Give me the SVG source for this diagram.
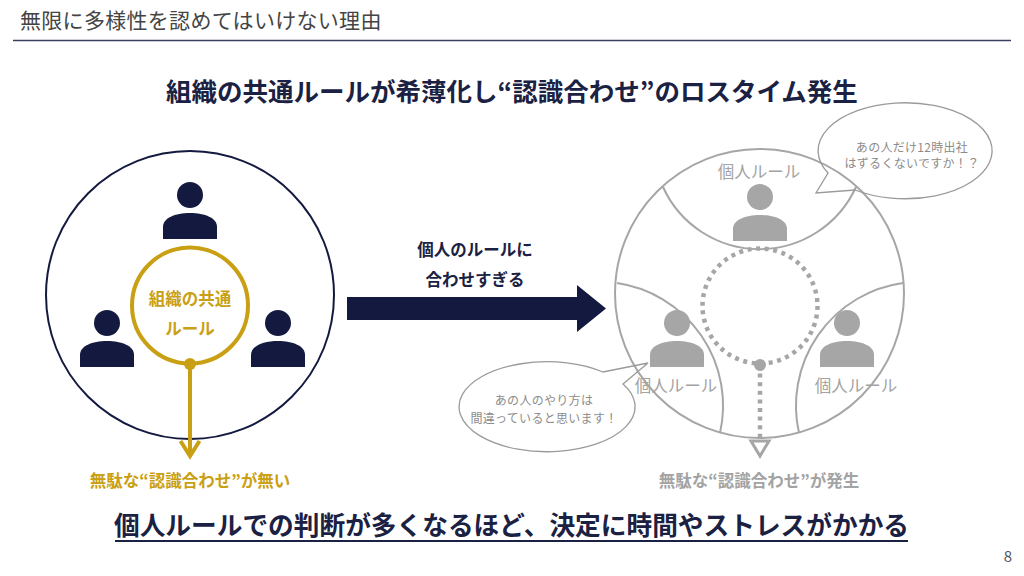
<svg xmlns="http://www.w3.org/2000/svg" xmlns:xlink="http://www.w3.org/1999/xlink" width="1024" height="576" viewBox="0 0 1024 576">
<style>
text{font-family:"Noto Sans CJK JP","Noto Sans",sans-serif;}
.b{font-weight:bold;}
.navy{fill:#1b2142;}
.gold{fill:#c9a013;}
.gray{fill:#a3a3a3;}
.bub{fill:#8c8c8c;font-size:12px;letter-spacing:0.3px;}
.lbl{font-size:16.5px;}
.gline{fill:none;stroke:#a6a6a6;stroke-width:2;}
.bline{fill:none;stroke:#9a9a9a;stroke-width:1.3;}
</style>
<defs>
<g id="person">
<circle cx="0" cy="0" r="13"/>
<path d="M-27 44 V32 C-27 23 -15 18 0 18 C15 18 27 23 27 32 V44 Z"/>
</g>
</defs>
<rect width="1024" height="576" fill="#ffffff"/>

<g id="header">
<text x="20" y="28" font-size="21" letter-spacing="0.3" fill="#444444">無限に多様性を認めてはいけない理由</text>
<line x1="13" y1="40.5" x2="1011" y2="40.5" stroke="#3a4060" stroke-width="1.3"/>
</g>
<text id="title" x="512" y="101" text-anchor="middle" font-size="25.5" class="b navy">組織の共通ルールが希薄化し“認識合わせ”のロスタイム発生</text>

<g id="left-group">
<circle cx="190" cy="295" r="144" fill="none" stroke="#141a3f" stroke-width="2"/>
</g>
<g id="left-person-top" fill="#141a3f"><use xlink:href="#person" x="190" y="195"/></g>
<g id="left-person-left" fill="#141a3f"><use xlink:href="#person" x="107" y="323"/></g>
<g id="left-person-right" fill="#141a3f"><use xlink:href="#person" x="278" y="323"/></g>
<g id="common-rule">
<circle cx="190" cy="305.5" r="58" fill="none" stroke="#c9a013" stroke-width="4"/>
<text x="190" y="305" text-anchor="middle" class="b gold lbl">組織の共通</text>
<text x="190" y="335" text-anchor="middle" class="b gold lbl">ルール</text>
</g>

<g id="right-group">
<circle cx="759.5" cy="293.5" r="144.5" class="gline"/>
<path d="M663 187 A106 106 0 0 0 856 187" class="gline"/>
<path d="M617 283 A124 124 0 0 1 720 433" class="gline"/>
<path d="M903 283 A124 124 0 0 0 799 433" class="gline"/>
<circle cx="760" cy="306" r="57.5" fill="none" stroke="#a6a6a6" stroke-width="4.5" stroke-dasharray="4 4.6"/>
</g>
<g id="right-person-top" fill="#a6a6a6"><use xlink:href="#person" x="760" y="197"/>
<text x="759" y="178" text-anchor="middle" class="gray lbl">個人ルール</text></g>
<g id="right-person-left" fill="#a6a6a6"><use xlink:href="#person" x="677" y="323"/>
<text x="676" y="392" text-anchor="middle" class="gray lbl">個人ルール</text></g>
<g id="right-person-right" fill="#a6a6a6"><use xlink:href="#person" x="847" y="323"/>
<text x="856" y="392" text-anchor="middle" class="gray lbl">個人ルール</text></g>

<g id="bubble-top">
<path d="M828 173 A87 48 0 1 1 855 190 L816 193 Z" class="bline"/>
<text x="912" y="152" text-anchor="middle" class="bub">あの人だけ12時出社</text>
<text x="912" y="168" text-anchor="middle" class="bub">はずるくないですか！？</text>
</g>
<g id="bubble-left">
<path d="M603 372 A88 45 0 1 0 623 384 L648 363 Z" class="bline"/>
<text x="544" y="405" text-anchor="middle" class="bub">あの人のやり方は</text>
<text x="544" y="423" text-anchor="middle" class="bub">間違っていると思います！</text>
</g>

<g id="connectors">
<line x1="190" y1="364" x2="190" y2="455" stroke="#c9a013" stroke-width="4"/>
<circle cx="190" cy="364" r="6" fill="#c9a013"/>
<polyline points="180.5,441 190,456 199.5,441" fill="none" stroke="#c9a013" stroke-width="4"/>
<polygon points="347,297 577,297 577,285 606,308.5 577,332 577,320 347,320" fill="#141a3f"/>
<line x1="760" y1="365" x2="760" y2="441" stroke="#a6a6a6" stroke-width="4.5" stroke-dasharray="4 4.6"/>
<circle cx="760" cy="365" r="6" fill="#a6a6a6"/>
<polygon points="751,441 769,441 760,456" fill="none" stroke="#a6a6a6" stroke-width="3"/>
</g>

<text x="475" y="256" text-anchor="middle" class="b navy lbl">個人のルールに</text>
<text x="475" y="286" text-anchor="middle" class="b navy lbl">合わせすぎる</text>
<text x="190" y="487" text-anchor="middle" class="b gold lbl">無駄な“認識合わせ”が無い</text>
<text x="759" y="487" text-anchor="middle" class="b gray lbl">無駄な“認識合わせ”が発生</text>

<g id="conclusion">
<text x="511.5" y="535" text-anchor="middle" font-size="25.7" class="b navy">個人ルールでの判断が多くなるほど、決定に時間やストレスがかかる</text>
<line x1="115" y1="541" x2="908" y2="541" stroke="#1b2142" stroke-width="2"/>
</g>
<text x="1008" y="562" text-anchor="middle" font-size="15" fill="#555555">8</text>
</svg>
